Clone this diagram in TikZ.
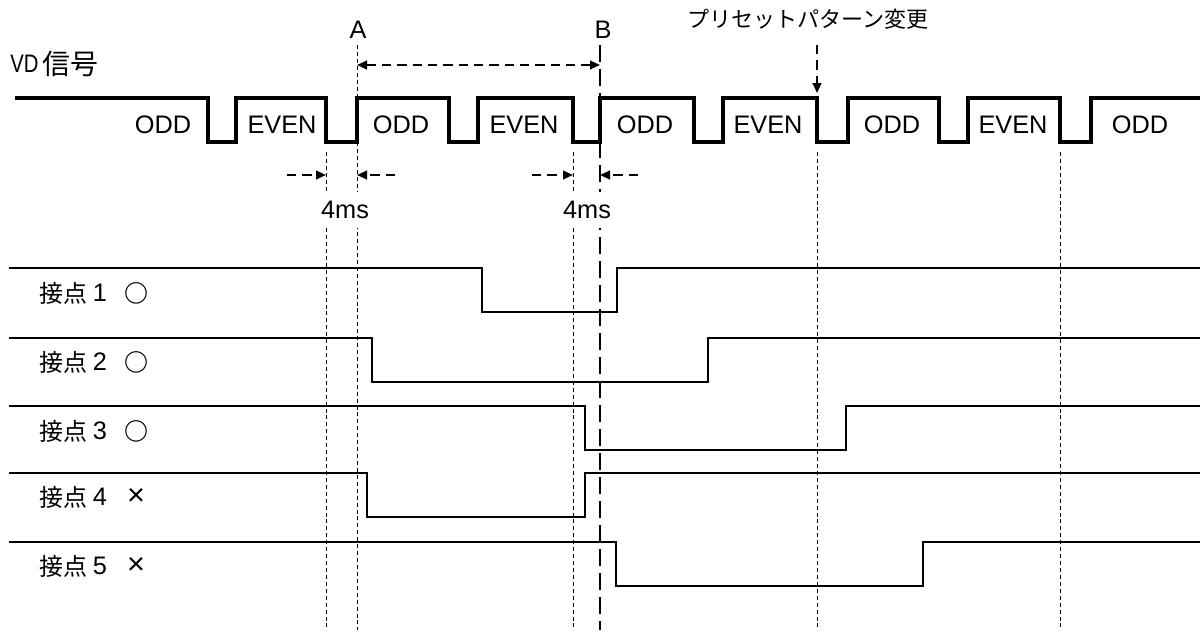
\documentclass[tikz,border=0pt]{standalone}
\usepackage{fontspec}
\setmainfont{Liberation Sans}
\newfontfamily\jp{Noto Sans CJK JP}
\usetikzlibrary{arrows.meta}
\begin{document}
\begin{tikzpicture}[x=0.75pt,y=-0.75pt,
  sig/.style={line width=2.3pt, line join=miter},
  cont/.style={line width=1.6pt, line join=miter},
  guide/.style={line width=0.7pt, dash pattern=on 3pt off 2.2pt},
  bline/.style={line width=1.9pt, dash pattern=on 13pt off 5pt},
  darr/.style={line width=1.5pt, dash pattern=on 7pt off 4.5pt, -{Triangle[length=7.5pt,width=6.5pt]}},
  lbl/.style={font=\fontsize{19}{19}\selectfont, inner sep=0pt},
  jl/.style={font=\fontsize{18}{18}\selectfont\jp, inner sep=0pt},
  sym/.style={font=\fontsize{18}{18}\selectfont\jp\bfseries, inner sep=0pt},
  xsym/.style={font=\fontsize{23}{23}\selectfont, inner sep=0pt},
  msbox/.style={lbl, fill=white, inner xsep=2pt, inner ysep=7pt}]
\useasboundingbox (0,0) rectangle (1204,633);
% guide lines
\draw[guide] (357,45) -- (357,630);
\draw[guide] (326,152) -- (326,630);
\draw[guide] (573,152) -- (573,630);
\draw[guide] (817,152) -- (817,630);
\draw[guide] (1060,152) -- (1060,630);
\draw[bline] (600,45) -- (600,630);
% VD signal
\draw[sig] (15,98) -| (208,142) -| (236,98) -| (326,142) -| (357,98) -| (449,142) -| (478,98) -| (573,142) -| (600,98) -| (694,142) -| (723,98) -| (817,142) -| (848,98) -| (939,142) -| (968,98) -| (1060,142) -| (1091,98) -- (1200,98);
% field labels
\foreach \x/\t [count=\i] in {163/ODD,282/EVEN,401/ODD,524/EVEN,645/ODD,768/EVEN,892/ODD,1013/EVEN,1140/ODD}
  \node[lbl] (f\i) at (\x,125) {\t};
% titles
\node[lbl, anchor=west] (vd) at (10,64) {\scalebox{0.8}[1]{VD}};
\node[font=\fontsize{21}{21}\selectfont\jp, inner sep=0pt, anchor=west] (vdj) at (42,64) {信号};
\node[lbl] (la) at (358,30) {A};
\node[lbl] (lb) at (603,30) {B};
\node[font=\fontsize{16.5}{16.5}\selectfont\jp, inner sep=0pt] (preset) at (808,19) {プリセットパターン変更};
% arrows
\coordinate (a1) at (357,65); \coordinate (b1) at (600,65);
\draw[darr, {Triangle[length=7.5pt,width=6.5pt]}-{Triangle[length=7.5pt,width=6.5pt]}] (a1) -- (b1);
\coordinate (p0) at (817,45); \coordinate (p1) at (817,93);
\draw[darr] (p0) -- (p1);
\coordinate (t1s) at (287,175); \coordinate (t1e) at (326,175);
\coordinate (t2s) at (395,175); \coordinate (t2e) at (357,175);
\coordinate (t3s) at (532,175); \coordinate (t3e) at (573,175);
\coordinate (t4s) at (638,175); \coordinate (t4e) at (600,175);
\draw[darr] (t1s) -- (t1e);
\draw[darr] (t2s) -- (t2e);
\draw[darr] (t3s) -- (t3e);
\draw[darr] (t4s) -- (t4e);
\node[msbox] (ms1) at (345,210) {4ms};
\node[msbox] (ms2) at (587,210) {4ms};
% contacts
\draw[cont] (9,268) -| (482,312) -| (617,268) -- (1200,268);
\draw[cont] (9,338) -| (372,382) -| (708,338) -- (1200,338);
\draw[cont] (9,406) -| (585,450) -| (846,406) -- (1200,406);
\draw[cont] (9,473) -| (367,517) -| (585,473) -- (1200,473);
\draw[cont] (9,542) -| (616,586) -| (923,542) -- (1200,542);
\foreach \y/\n [count=\i] in {293/1,362/2,431/3,497/4,566/5}{
  \node[jl, anchor=west] (c\i) at (39,\y) {接点};
  \node[lbl] (n\i) at (100,\y) {\n};
}
\foreach \y [count=\i] in {293,362,431}
  \node[sym] (s\i) at (136,\y) {○};
\node[xsym] (s4) at (136,497) {×};
\node[xsym] (s5) at (136,566) {×};
\end{tikzpicture}
\end{document}
